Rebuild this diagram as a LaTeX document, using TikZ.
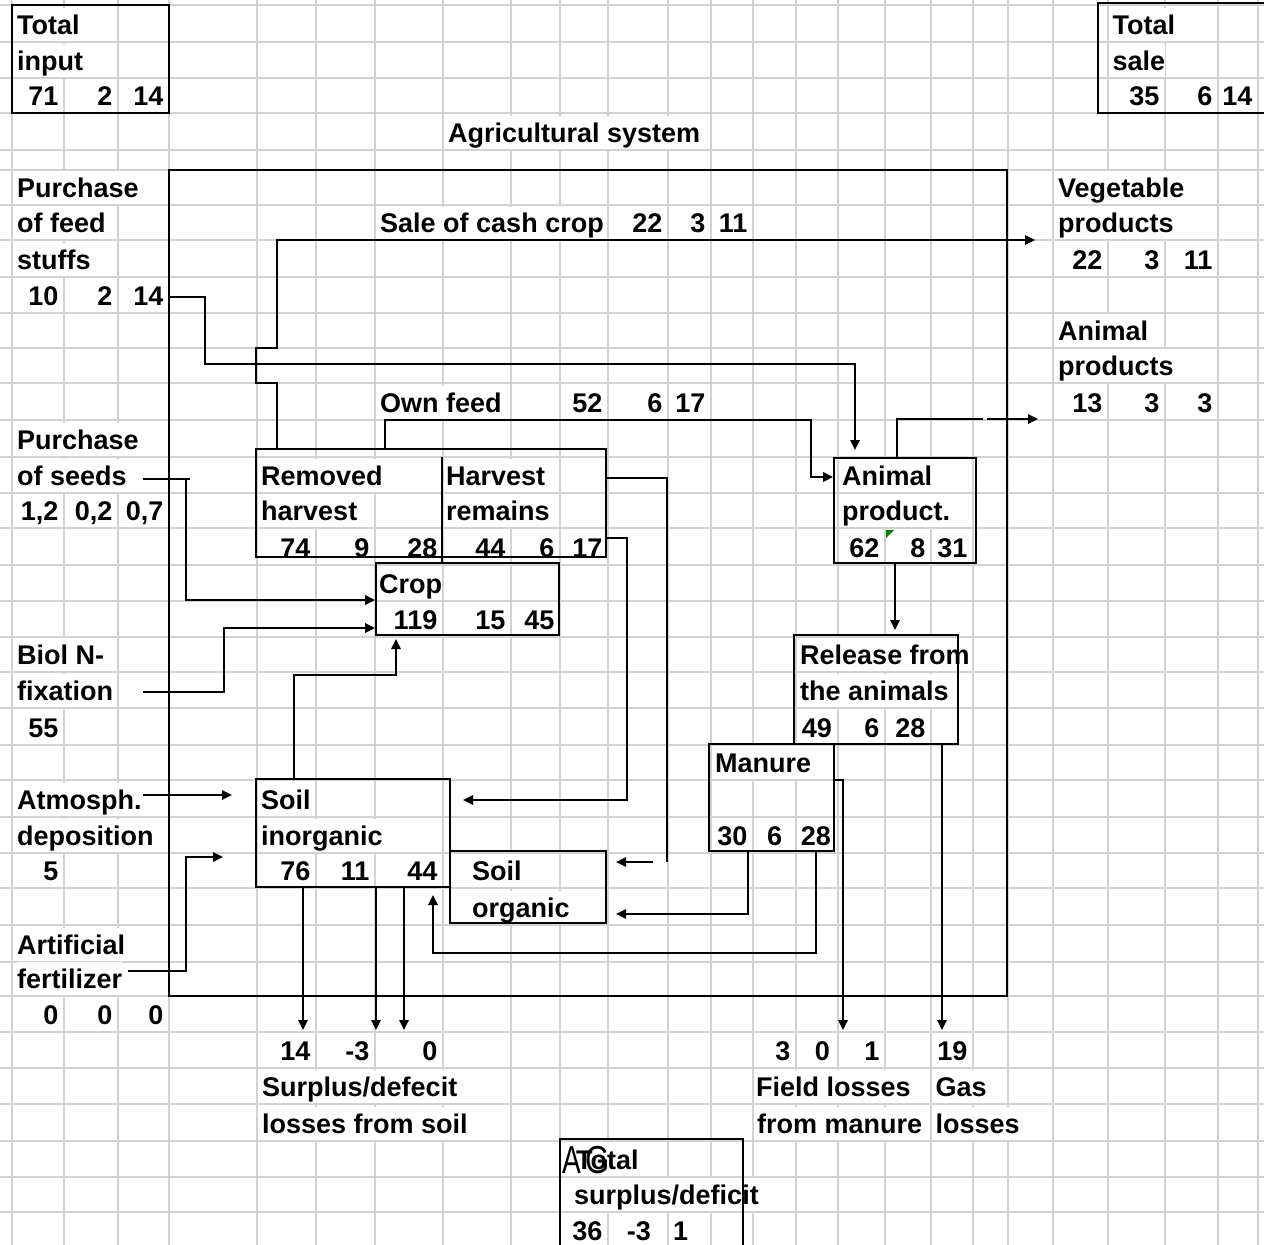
\documentclass[tikz,border=0pt]{standalone}
\usepackage{fontspec}
\setmainfont{Liberation Sans}
\usetikzlibrary{arrows.meta,fit}
\definecolor{gridc}{RGB}{210,210,210}
\definecolor{xlgreen}{RGB}{0,128,0}
\newcommand\myfnt{\fontsize{27}{30}\selectfont\bfseries}
\newcommand\myfntreg{\fontsize{39}{42}\selectfont}
\begin{document}
\begin{tikzpicture}[x=1pt,y=-1pt,
  gridl/.style={gridc,line width=1.8pt},
  lbl/.style={anchor=base west,inner sep=0pt,text height=26pt,text depth=6.5pt,fill=white,font=\myfnt},
  num/.style={lbl,anchor=base east},
  numc/.style={lbl,anchor=base},
  overl/.style={anchor=base west,inner sep=0pt,font=\myfntreg},
  boxs/.style={draw=black,line width=1.9pt,inner sep=0pt},
  conn/.style={draw=black,line width=1.7pt},
  arr/.style={conn,-{Triangle[length=10pt,width=9.5pt]}}]
\useasboundingbox (0,0) rectangle (1264,1245);
\clip (0,0) rectangle (1264,1245);
\fill[white] (0,0) rectangle (1264,1245);
% grid
\foreach \gx in {12,64,118,169,257,316,375,443,511,560,608,668,711,753,796,838,885,931,973,1008,1053,1108,1165,1218,1258}
  \draw[gridl] (\gx,0) -- (\gx,1245);
\foreach \gy in {5,42,78,113,150,170,205,240,277,313,348,383,420,457,493,528,565,601,637,672,708,745,780,817,853,888,925,962,996,1032,1068,1104,1141,1177,1212}
  \draw[gridl] (0,\gy) -- (1264,\gy);

% ---------- texts: left column
\node[lbl] (ti1) at (17,34) {Total};
\node[lbl] (ti2) at (17,70) {input};
\node[num] (ti3) at (58.5,105) {71};
\node[num] (ti4) at (112.5,105) {2};
\node[num] (ti5) at (163.5,105) {14};

\node[lbl] (pf1) at (17,197) {Purchase};
\node[lbl] (pf2) at (17,232) {of feed};
\node[lbl] (pf3) at (17,269) {stuffs};
\node[num] (pf4) at (58.5,305) {10};
\node[num] (pf5) at (112.5,305) {2};
\node[num] (pf6) at (163.5,305) {14};

\node[lbl] (ps1) at (17,449) {Purchase};
\node[lbl] (ps2) at (17,485) {of seeds};
\node[num] (ps3) at (58.5,520) {1,2};
\node[num] (ps4) at (112.5,520) {0,2};
\node[num] (ps5) at (163.5,520) {0,7};

\node[lbl] (bn1) at (17,664) {Biol N-};
\node[lbl] (bn2) at (17,700) {fixation};
\node[num] (bn3) at (58.5,737) {55};

\node[lbl] (ad1) at (17,809) {Atmosph.};
\node[lbl] (ad2) at (17,845) {deposition};
\node[num] (ad3) at (58.5,880) {5};

\node[lbl] (af1) at (17,954) {Artificial};
\node[lbl] (af2) at (17,988) {fertilizer};
\node[num] (af3) at (58.5,1024) {0};
\node[num] (af4) at (112.5,1024) {0};
\node[num] (af5) at (163.5,1024) {0};

% ---------- right column
\node[lbl] (ts1) at (1112.5,34) {Total};
\node[lbl] (ts2) at (1112.5,70) {sale};
\node[num] (ts3) at (1159.5,105) {35};
\node[num] (ts4) at (1212.5,105) {6};
\node[num] (ts5) at (1252.5,105) {14};

\node[lbl] (vp1) at (1058,197) {Vegetable};
\node[lbl] (vp2) at (1058,232) {products};
\node[num] (vp3) at (1102.5,269) {22};
\node[num] (vp4) at (1159.5,269) {3};
\node[num] (vp5) at (1212.5,269) {11};

\node[lbl] (anp1) at (1058,340) {Animal};
\node[lbl] (anp2) at (1058,375) {products};
\node[num] (anp3) at (1102.5,412) {13};
\node[num] (anp4) at (1159.5,412) {3};
\node[num] (anp5) at (1212.5,412) {3};

% ---------- inner texts
\node[lbl] (title) at (448,142) {Agricultural system};
\begin{scope}
\clip (370,207) rectangle (607,239);
\node[lbl] (sale) at (380,232) {Sale of cash crop};
\end{scope}
\node[num] (sale1) at (662.5,232) {22};
\node[num] (sale2) at (705.5,232) {3};
\node[num] (sale3) at (747.5,232) {11};

\node[lbl] (of0) at (380,412) {Own feed};
\node[num] (of1) at (602.5,412) {52};
\node[num] (of2) at (662.5,412) {6};
\node[num] (of3) at (705.5,412) {17};

\node[lbl] (rh1) at (261,485) {Removed};
\node[lbl] (rh2) at (261,520) {harvest};
\node[num] (rh3) at (310.5,557) {74};
\node[num] (rh4) at (369.5,557) {9};
\node[num] (rh5) at (437.5,557) {28};

\node[lbl] (hr1) at (446,485) {Harvest};
\node[lbl] (hr2) at (446,520) {remains};
\node[num] (hr3) at (505.5,557) {44};
\node[num] (hr4) at (554.5,557) {6};
\node[num] (hr5) at (602.5,557) {17};

\node[lbl] (cr1) at (379,593) {Crop};
\node[num] (cr2) at (437.5,629) {119};
\node[num] (cr3) at (505.5,629) {15};
\node[num] (cr4) at (554.5,629) {45};

\node[lbl] (ap1) at (842,485) {Animal};
\node[lbl] (ap2) at (842,520) {product.};
\node[num] (ap3) at (879.5,557) {62};
\node[num] (ap4) at (925.5,557) {8};
\node[num] (ap5) at (967.5,557) {31};

\node[lbl] (ra1) at (800,664) {Release from};
\node[lbl] (ra2) at (800,700) {the animals};
\node[num] (ra3) at (832,737) {49};
\node[num] (ra4) at (879.5,737) {6};
\node[num] (ra5) at (925.5,737) {28};

\node[lbl] (mn1) at (715,772) {Manure};
\node[num] (mn2) at (747.5,845) {30};
\node[numc] (mn3) at (774.5,845) {6};
\node[num] (mn4) at (831,845) {28};

\node[lbl] (si1) at (261,809) {Soil};
\node[lbl] (si2) at (261,845) {inorganic};
\node[num] (si3) at (310.5,880) {76};
\node[num] (si4) at (369.5,880) {11};
\node[num] (si5) at (437.5,880) {44};

\node[lbl] (so1) at (472,880) {Soil};
\node[lbl] (so2) at (472,917) {organic};

% ---------- bottom texts
\node[num] (sd1) at (310.5,1060) {14};
\node[num] (sd2) at (369.5,1060) {-3};
\node[num] (sd3) at (437.5,1060) {0};
\node[lbl] (sd4) at (262,1096) {Surplus/defecit};
\node[lbl] (sd5) at (262,1133) {losses from soil};

\node[num] (fl1) at (790.5,1060) {3};
\node[num] (fl2) at (830,1060) {0};
\node[num] (fl3) at (879.5,1060) {1};
\node[num] (gl1) at (967.5,1060) {19};
\node[lbl] (fl4) at (756,1096) {Field losses};
\node[lbl] (fl5) at (757,1133) {from manure};
\node[lbl] (gl2) at (935.5,1096) {Gas};
\node[lbl] (gl3) at (935.5,1133) {losses};

\node[lbl] (tsd1) at (576,1169) {Total};
\node[overl,xscale=0.72,transform shape] (tsdA) at (562,1173) {A};
\node[overl,xscale=0.8,transform shape] (tsdG) at (585.5,1173) {G};
\node[lbl] (tsd2) at (574,1204) {surplus/deficit};
\node[num] (tsd3) at (602.5,1240) {36};
\node[num] (tsd4) at (651,1240) {-3};
\node[lbl] (tsd5) at (673,1240) {1};

% ---------- boxes
\node[boxs,fit={(12,5)(169,113)}] (tin) {};
\node[boxs,fit={(1098,3)(1275,113)}] (tsale) {};
\node[boxs,fit={(169,170)(1007,996)}] (sys) {};
\node[boxs,fit={(256,449)(606,557)}] (rh) {};
\draw[conn] (442,457) -- (442,563);
\node[boxs,fit={(376,563)(559,635)}] (crop) {};
\node[boxs,fit={(834,458)(976,563)}] (ap) {};
\node[boxs,fit={(794,635)(958,744)}] (rel) {};
\node[boxs,fit={(709,744)(834,851)}] (man) {};
\node[boxs,fit={(256,779)(450,887)}] (si) {};
\node[boxs,fit={(450,851)(606,923)}] (so) {};
\node[boxs,fit={(560,1139)(743,1262)}] (tsd) {};

% free ends
\coordinate (vegin) at (1035,240);
\coordinate (anin) at (1038,419);
\coordinate (feedin) at (169,297);
\coordinate (seedout) at (143,479);
\coordinate (bnout) at (143,692);
\coordinate (atmout) at (143,795);
\coordinate (fertout) at (128,971);

% ---------- connectors
\draw[arr] (277,0 |- rh.north) -- (277,383) -- (256,383) -- (256,348) -- (277,348) -- (277,240) -- (vegin);
\draw[arr] (feedin) -- (205,297) -- (205,364) -- (855,364) -- (855,450);
\draw[arr] (385,0 |- rh.north) -- (385,420) -- (811,420) -- (811,477) -- (ap.west |- 0,477);
\draw[conn] (897,0 |- ap.north) -- (897,419) -- (983,419);
\draw[arr] (987,419) -- (anin);
\draw[arr] (895,0 |- ap.south) -- (895,630);
\draw[conn] (seedout) -- (190,479);
\draw[arr] (186,479) -- (186,600) -- (crop.west |- 0,600);
\draw[arr] (bnout) -- (224,692) -- (224,628) -- (crop.west |- 0,628);
\draw[arr] (294,0 |- si.north) -- (294,675) -- (396,675) -- (396,639);
\draw[arr] (atmout) -- (232,795);
\draw[arr] (fertout) -- (186,971) -- (186,857) -- (223,857);
\draw[arr] (rh.east |- 0,538) -- (627,538) -- (627,800) -- (463,800);
\draw[conn] (rh.east |- 0,478) -- (667,478) -- (667,862);
\draw[arr] (653,862) -- (616,862);
\draw[arr] (748,0 |- man.south) -- (748,914) -- (616,914);
\draw[arr] (816,0 |- man.south) -- (816,953) -- (433,953) -- (433,895);
\draw[arr] (man.east |- 0,780) -- (843,780) -- (843,1030);
\draw[arr] (942,0 |- rel.south) -- (942,1030);
\draw[arr] (303,0 |- si.south) -- (303,1030);
\draw[arr] (376,0 |- si.south) -- (376,1030);
\draw[arr] (404,0 |- si.south) -- (404,1030);

% error indicator
\fill[xlgreen] (886,530) -- (894,530) -- (886,538) -- cycle;
\end{tikzpicture}
\end{document}
